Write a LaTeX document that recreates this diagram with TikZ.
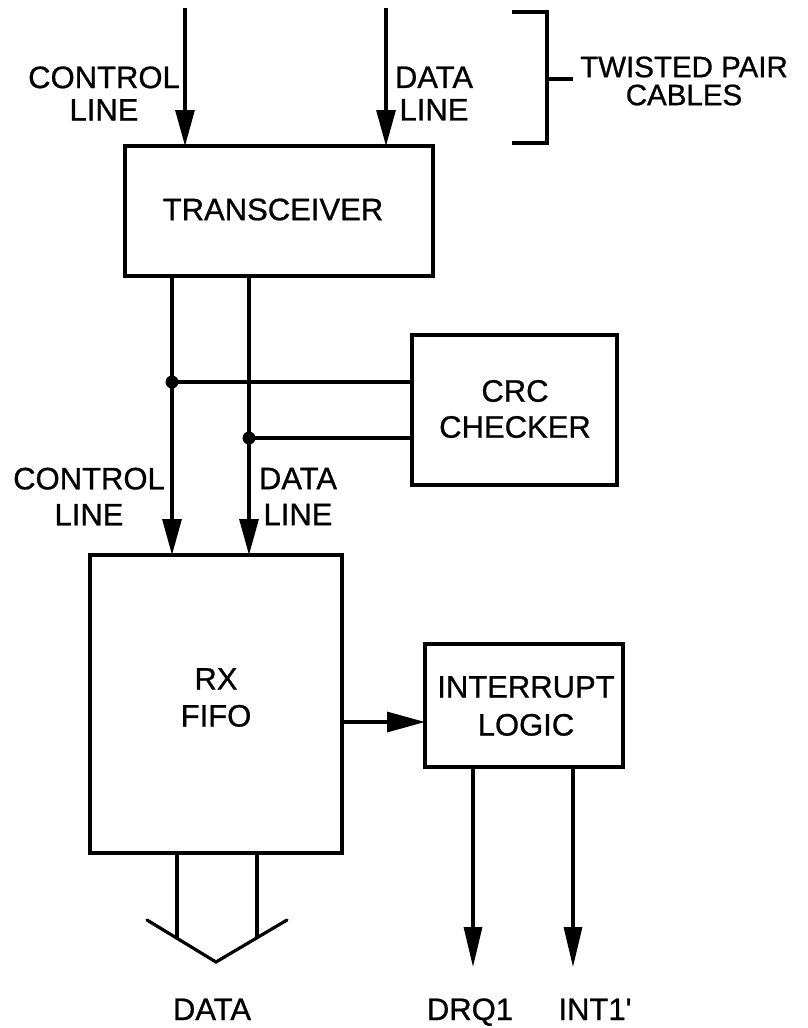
\documentclass[tikz,border=0pt]{standalone}
\usepackage{fontspec}
\setmainfont{Liberation Sans}[FakeBold=0.8]
\newfontfamily\heavyfont[FakeBold=0.8]{Liberation Sans}
\usetikzlibrary{arrows.meta}
\begin{document}
\begin{tikzpicture}[x=1pt,y=-1pt,
  box/.style={draw, line width=3.3pt, inner sep=0pt, outer sep=0pt, rectangle},
  wire/.style={line width=3.2pt},
  arr/.style={wire, -{Triangle[length=36pt,width=19pt]}},
  arrh/.style={wire, -{Triangle[length=38pt,width=20pt]}},
  arrlong/.style={wire, -{Triangle[length=40pt,width=18pt]}},
  lbl/.style={align=center, inner sep=0pt, outer sep=0pt, font=\heavyfont\fontsize{31}{36}\selectfont},
]
\useasboundingbox (0,0) rectangle (807,1028);

% blocks
\node[box, minimum width=308pt, minimum height=130pt] (trans) at (279,211) {};
\node[lbl] (transtxt) at (273,209.5) {TRANSCEIVER};
\node[box, minimum width=205pt, minimum height=150pt] (crc) at (514.5,410) {};
\node[lbl] (crctxt) at (515,409) {CRC\\CHECKER};
\node[box, minimum width=252pt, minimum height=298pt] (fifo) at (216,704) {};
\node[lbl, font=\heavyfont\fontsize{31}{37}\selectfont] (fifotxt) at (216,697.5) {RX\\FIFO};
\node[box, minimum width=198pt, minimum height=123pt] (intr) at (524,705.5) {};
\node[lbl, font=\heavyfont\fontsize{31}{38}\selectfont] (intrtxt) at (526,706) {INTERRUPT\\LOGIC};

% labels
\node[lbl, font=\heavyfont\fontsize{31}{32.5}\selectfont] (cl1) at (104,93.5) {CONTROL\\LINE};
\node[lbl, font=\heavyfont\fontsize{31}{32.5}\selectfont] (dl1) at (434,93.5) {DATA\\LINE};
\node[lbl, font=\heavyfont\fontsize{29.5}{28}\selectfont] (tp) at (684,81) {TWISTED PAIR\\CABLES};
\node[lbl] (cl2) at (89,496.5) {CONTROL\\LINE};
\node[lbl] (dl2) at (298,496.5) {DATA\\LINE};
\node[lbl, anchor=base] (data) at (212,1020) {DATA};
\node[lbl, anchor=base] (drq) at (470,1020) {DRQ1};
\node[lbl, anchor=base] (int) at (595,1020) {INT1\textquotesingle};

% incoming cables
\coordinate (ctop) at (185,8);
\coordinate (dtop) at (386,8);
\draw[arr] (ctop) -- (ctop |- trans.north);
\draw[arr] (dtop) -- (dtop |- trans.north);

% bracket
\coordinate (bt) at (512,12);
\coordinate (btc) at (547,12);
\coordinate (bbc) at (547,143);
\coordinate (bb) at (512,143);
\coordinate (bmc) at (547,79);
\coordinate (bm) at (573,79);
\draw[wire] (bt) -- (btc) -- (bbc) -- (bb);
\draw[wire] (bmc) -- (bm);

% transceiver to fifo
\coordinate (cx) at (172,0);
\coordinate (dx) at (249,0);
\draw[arr] (trans.south -| cx) -- (fifo.north -| cx);
\draw[arr] (trans.south -| dx) -- (fifo.north -| dx);

% taps to CRC checker
\coordinate (j1) at (172,382);
\coordinate (j2) at (249,438);
\draw[wire] (j1) -- (j1 -| crc.west);
\draw[wire] (j2) -- (j2 -| crc.west);
\fill (j1) circle (6.5pt);
\fill (j2) circle (6.5pt);

% fifo to interrupt logic
\coordinate (fo) at (342,722);
\draw[arrh] (fo -| fifo.east) -- (fo -| intr.west);

% interrupt outputs
\coordinate (q1) at (473,967);
\coordinate (q2) at (573,967);
\draw[arrlong] (intr.south -| q1) -- (q1);
\draw[arrlong] (intr.south -| q2) -- (q2);

% data bus
\coordinate (bl) at (147,920);
\coordinate (ba) at (216,962);
\coordinate (br) at (287,920);
\coordinate (b1) at (177,938.2);
\coordinate (b2) at (257,937.7);
\draw[wire] (fifo.south -| b1) -- (b1);
\draw[wire] (fifo.south -| b2) -- (b2);
\draw[wire, line cap=round] (bl) -- (ba) -- (br);
\end{tikzpicture}
\end{document}
